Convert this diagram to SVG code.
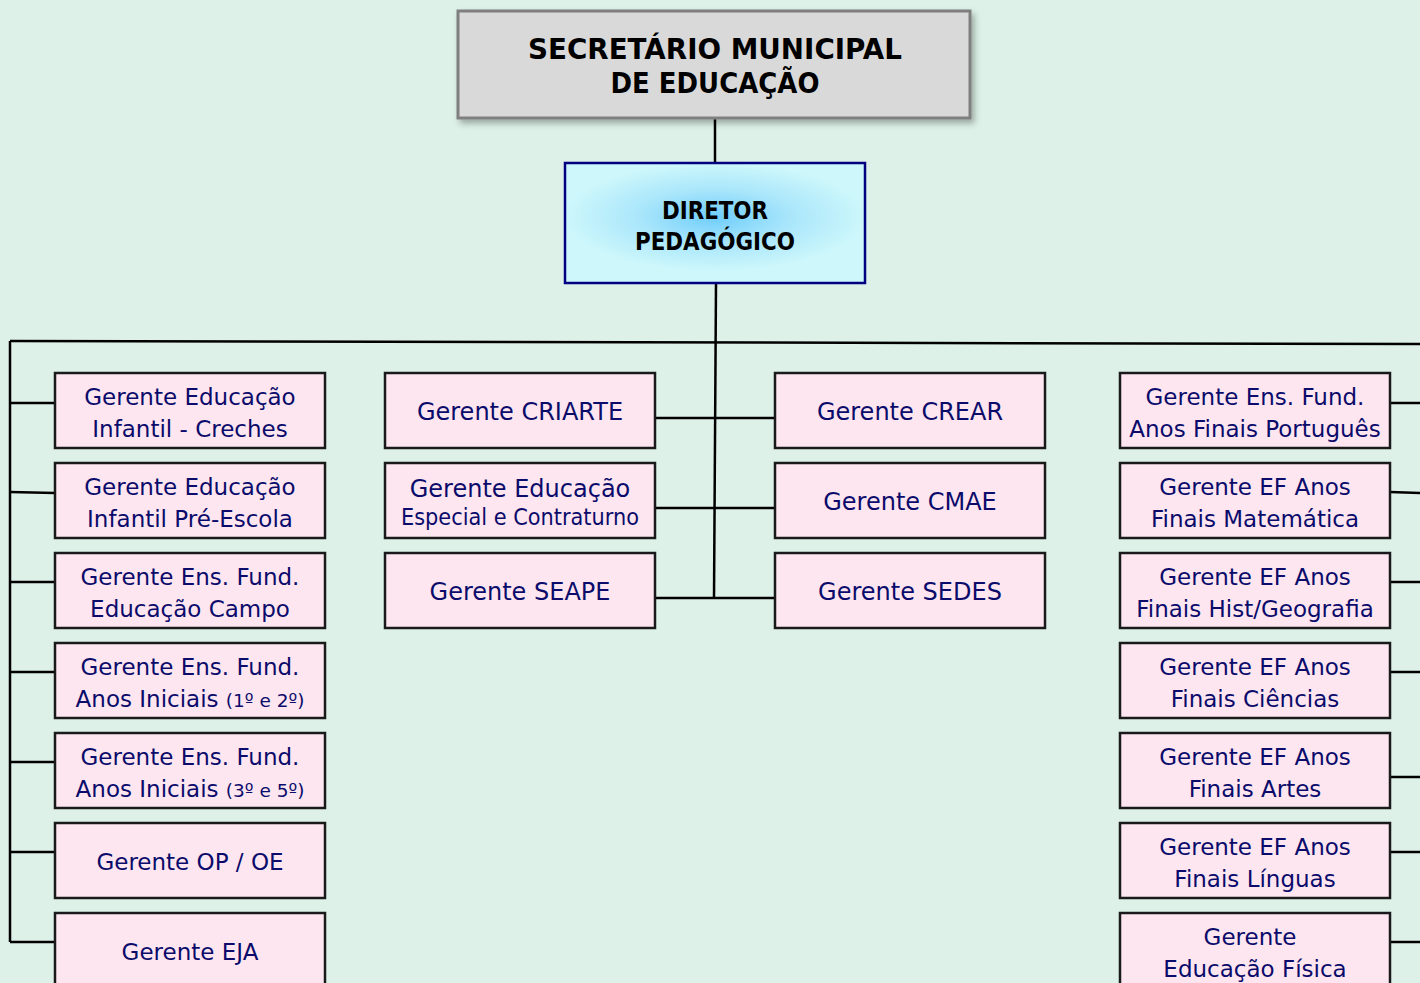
<svg xmlns="http://www.w3.org/2000/svg" width="1420" height="983" viewBox="0 0 1420 983">
<defs>
<style>
.bg{fill:#ddf1e8}
.box{fill:#fde6f0;stroke:#1a1a1a;stroke-width:2.5}
.t{font-family:"DejaVu Sans",Verdana,sans-serif;font-size:23px;fill:#0b0b6b;text-anchor:middle}
.m{font-size:24px}
.s{font-size:18.5px}
.hd{font-family:"DejaVu Sans",Verdana,sans-serif;font-weight:bold;fill:#000;text-anchor:middle}
.ln{stroke:#000;stroke-width:2.5;fill:none}
</style>
<radialGradient id="dg" cx="0.5" cy="0.45" r="0.5" gradientTransform="translate(0.5 0.45) scale(1 0.9) translate(-0.5 -0.45)">
<stop offset="0" stop-color="#6fcdfb"/>
<stop offset="0.5" stop-color="#a9e6fb"/>
<stop offset="1" stop-color="#cdf7fb"/>
</radialGradient>
<filter id="sh" x="-5%" y="-10%" width="115%" height="130%">
<feDropShadow dx="3" dy="4" stdDeviation="3" flood-color="#000" flood-opacity="0.3"/>
</filter>
</defs>
<rect class="bg" x="0" y="0" width="1420" height="983"/>

<g id="connectors">
<line class="ln" x1="715" y1="118" x2="715" y2="163"/>
<line class="ln" x1="716" y1="283" x2="714" y2="598"/>
<line class="ln" x1="10" y1="341" x2="1420" y2="344"/>
<line class="ln" x1="10" y1="341" x2="10" y2="942"/>
<line class="ln" x1="10" y1="403" x2="55" y2="403"/>
<line class="ln" x1="10" y1="492" x2="55" y2="493"/>
<line class="ln" x1="10" y1="582" x2="55" y2="582"/>
<line class="ln" x1="10" y1="672" x2="55" y2="672"/>
<line class="ln" x1="10" y1="762" x2="55" y2="762"/>
<line class="ln" x1="10" y1="852" x2="55" y2="852"/>
<line class="ln" x1="10" y1="942" x2="55" y2="942"/>
<line class="ln" x1="1390" y1="403" x2="1420" y2="403"/>
<line class="ln" x1="1390" y1="492" x2="1420" y2="493"/>
<line class="ln" x1="1390" y1="582" x2="1420" y2="582"/>
<line class="ln" x1="1390" y1="672" x2="1420" y2="672"/>
<line class="ln" x1="1390" y1="777" x2="1420" y2="777"/>
<line class="ln" x1="1390" y1="852" x2="1420" y2="852"/>
<line class="ln" x1="1390" y1="942" x2="1420" y2="942"/>
<line class="ln" x1="655" y1="418" x2="775" y2="418"/>
<line class="ln" x1="655" y1="508" x2="775" y2="508"/>
<line class="ln" x1="655" y1="598" x2="775" y2="598"/>
</g>

<g id="secretario">
<rect x="458" y="11" width="512" height="107" fill="#d9d9d9" stroke="#7f7f7f" stroke-width="3" filter="url(#sh)"/>
<text class="hd" x="715" y="59" font-size="29" textLength="374" lengthAdjust="spacingAndGlyphs">SECRETÁRIO MUNICIPAL</text>
<text class="hd" x="715" y="93" font-size="29" textLength="209" lengthAdjust="spacingAndGlyphs">DE EDUCAÇÃO</text>
</g>

<g id="diretor">
<rect x="565" y="163" width="300" height="120" fill="url(#dg)" stroke="#000080" stroke-width="2.5"/>
<text class="hd" x="715" y="219" font-size="24" textLength="106" lengthAdjust="spacingAndGlyphs">DIRETOR</text>
<text class="hd" x="715" y="250" font-size="24" textLength="160" lengthAdjust="spacingAndGlyphs">PEDAGÓGICO</text>
</g>

<g id="l1"><rect class="box" x="55" y="373" width="270" height="75"/>
<text class="t" x="190" y="405">Gerente Educação</text><text class="t" x="190" y="437">Infantil - Creches</text></g>
<g id="l2"><rect class="box" x="55" y="463" width="270" height="75"/>
<text class="t" x="190" y="495">Gerente Educação</text><text class="t" x="190" y="527">Infantil Pré-Escola</text></g>
<g id="l3"><rect class="box" x="55" y="553" width="270" height="75"/>
<text class="t" x="190" y="585">Gerente Ens. Fund.</text><text class="t" x="190" y="617">Educação Campo</text></g>
<g id="l4"><rect class="box" x="55" y="643" width="270" height="75"/>
<text class="t" x="190" y="675">Gerente Ens. Fund.</text><text class="t" x="190" y="707">Anos Iniciais <tspan class="s">(1º e 2º)</tspan></text></g>
<g id="l5"><rect class="box" x="55" y="733" width="270" height="75"/>
<text class="t" x="190" y="765">Gerente Ens. Fund.</text><text class="t" x="190" y="797">Anos Iniciais <tspan class="s">(3º e 5º)</tspan></text></g>
<g id="l6"><rect class="box" x="55" y="823" width="270" height="75"/>
<text class="t" x="190" y="870">Gerente OP / OE</text></g>
<g id="l7"><rect class="box" x="55" y="913" width="270" height="90"/>
<text class="t" x="190" y="960">Gerente EJA</text></g>

<g id="m1"><rect class="box" x="385" y="373" width="270" height="75"/>
<text class="t m" x="520" y="420">Gerente CRIARTE</text></g>
<g id="m2"><rect class="box" x="385" y="463" width="270" height="75"/>
<text class="t m" x="520" y="497">Gerente Educação</text><text class="t" x="520" y="525" font-size="21" textLength="238" lengthAdjust="spacingAndGlyphs">Especial e Contraturno</text></g>
<g id="m3"><rect class="box" x="385" y="553" width="270" height="75"/>
<text class="t m" x="520" y="600">Gerente  SEAPE</text></g>

<g id="r1"><rect class="box" x="775" y="373" width="270" height="75"/>
<text class="t m" x="910" y="420">Gerente CREAR</text></g>
<g id="r2"><rect class="box" x="775" y="463" width="270" height="75"/>
<text class="t m" x="910" y="510">Gerente CMAE</text></g>
<g id="r3"><rect class="box" x="775" y="553" width="270" height="75"/>
<text class="t m" x="910" y="600">Gerente SEDES</text></g>

<g id="f1"><rect class="box" x="1120" y="373" width="270" height="75"/>
<text class="t" x="1255" y="405">Gerente Ens. Fund.</text><text class="t" x="1255" y="437">Anos Finais Português</text></g>
<g id="f2"><rect class="box" x="1120" y="463" width="270" height="75"/>
<text class="t" x="1255" y="495">Gerente EF Anos</text><text class="t" x="1255" y="527">Finais Matemática</text></g>
<g id="f3"><rect class="box" x="1120" y="553" width="270" height="75"/>
<text class="t" x="1255" y="585">Gerente EF Anos</text><text class="t" x="1255" y="617">Finais Hist/Geografia</text></g>
<g id="f4"><rect class="box" x="1120" y="643" width="270" height="75"/>
<text class="t" x="1255" y="675">Gerente EF Anos</text><text class="t" x="1255" y="707">Finais Ciências</text></g>
<g id="f5"><rect class="box" x="1120" y="733" width="270" height="75"/>
<text class="t" x="1255" y="765">Gerente EF Anos</text><text class="t" x="1255" y="797">Finais Artes</text></g>
<g id="f6"><rect class="box" x="1120" y="823" width="270" height="75"/>
<text class="t" x="1255" y="855">Gerente EF Anos</text><text class="t" x="1255" y="887">Finais Línguas</text></g>
<g id="f7"><rect class="box" x="1120" y="913" width="270" height="90"/>
<text class="t" x="1250" y="945">Gerente</text><text class="t" x="1255" y="977">Educação Física</text></g>
</svg>
